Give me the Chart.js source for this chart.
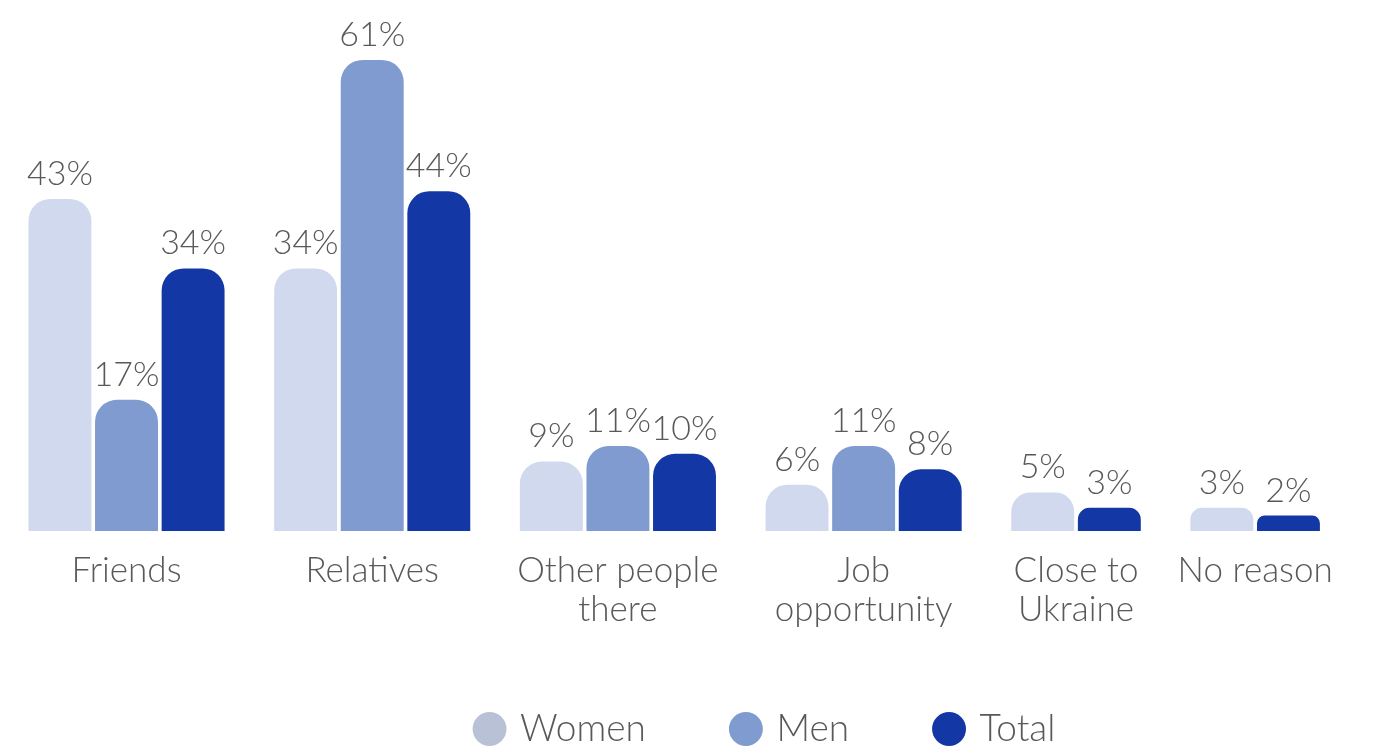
<!DOCTYPE html>
<html>
<head>
<meta charset="utf-8">
<script src="https://cdn.jsdelivr.net/npm/chart.js@4.4.1/dist/chart.umd.min.js"></script>
<style>
  html, body { margin: 0; background: #fff; }
  #wrap { width: 1387px; height: 755px; }
</style>
</head>
<body>
<div id="wrap"><canvas id="chart"></canvas></div>
<script>
const categories = [
  ["Friends"],
  ["Relatives"],
  ["Other people", "there"],
  ["Job", "opportunity"],
  ["Close to", "Ukraine"],
  ["No reason"],
];
const seriesNames = ["Women", "Men", "Total"];
const women = [43, 34, 9, 6, 5, 3];
const men = [17, 61, 11, 11, null, null];
const total = [34, 44, 10, 8, 3, 2];

const barColors = ["#d0d9ee", "#7f9bd0", "#1338a5"];
const legendColors = ["#b9c1d6", "#7f9bd0", "#1338a5"];
const textColor = "#595959";
const fontFamily = "Lato, 'Open Sans', sans-serif";

// extra space between groups, in bar slots
const GROUP_GAP = 0.69;
const LEGEND_PAD = 88;
const LEGEND_FONT = 37;
const LEGEND_SHIFT_X = 73;
const LEGEND_SHIFT_Y = -8.5;
const XAXIS_HEIGHT = 100;

// each bar gets its own slot, so groups with a missing series are narrower
const seriesValues = [women, men, total];
const points = seriesValues.map(() => []);
const groupCenters = [];
let slot = 0;
categories.forEach((cat, i) => {
  const first = slot;
  seriesValues.forEach((vals, s) => {
    if (vals[i] === null) return;
    points[s].push({ x: slot, y: vals[i] });
    slot++;
  });
  groupCenters.push((first + slot - 1) / 2);
  slot += GROUP_GAP;
});

const valueLabels = {
  id: "valueLabels",
  afterDatasetsDraw(chart) {
    const { ctx } = chart;
    ctx.save();
    ctx.font = `300 34px ${fontFamily}`;
    ctx.fillStyle = textColor;
    ctx.textAlign = "center";
    ctx.textBaseline = "alphabetic";
    chart.data.datasets.forEach((ds, d) => {
      chart.getDatasetMeta(d).data.forEach((bar, i) => {
        ctx.fillText(`${ds.data[i].y}%`, bar.x, bar.y - 14);
      });
    });
    ctx.restore();
  },
};

// wide gaps between legend items, but not the same gap under the row
const legendSpacing = {
  id: "legendSpacing",
  beforeInit(chart) {
    const fit = chart.legend.fit;
    chart.legend.fit = function () {
      fit.call(this);
      this.height = Math.min(this.height, LEGEND_PAD + LEGEND_FONT - 1);
    };
  },
  afterLayout(chart) {
    const lg = chart.legend;
    lg.left += LEGEND_SHIFT_X;
    lg.right += LEGEND_SHIFT_X;
    lg.top += LEGEND_SHIFT_Y;
    lg.bottom += LEGEND_SHIFT_Y;
  },
};

const ctx = document.getElementById("chart");
new Chart(ctx, {
  type: "bar",
  data: {
    datasets: seriesNames.map((name, s) => ({
      label: name,
      data: points[s],
      backgroundColor: barColors[s],
      borderWidth: 0,
      borderRadius: 22,
      grouped: false,
      categoryPercentage: 1,
      barPercentage: 0.945,
    })),
  },
  options: {
    responsive: true,
    maintainAspectRatio: false,
    animation: false,
    layout: { padding: { top: 29, left: 0, right: 0, bottom: 0 } },
    scales: {
      x: {
        type: "linear",
        offset: false,
        min: -0.9,
        max: 19.93,
        grid: { display: false, drawTicks: false },
        border: { display: false },
        afterBuildTicks(scale) {
          scale.ticks = groupCenters.map((v) => ({ value: v }));
        },
        afterFit(scale) {
          scale.height = XAXIS_HEIGHT;
        },
        ticks: {
          autoSkip: false,
          maxRotation: 0,
          padding: 20,
          color: textColor,
          font: { family: fontFamily, size: 35, weight: 300, lineHeight: 1.12 },
          callback: (value, index) => categories[index],
        },
      },
      y: { display: false, min: 0, max: 65 },
    },
    plugins: {
      tooltip: { enabled: false },
      legend: {
        position: "bottom",
        labels: {
          usePointStyle: true,
          pointStyle: "circle",
          boxWidth: 24,
          boxHeight: 24,
          padding: LEGEND_PAD,
          color: textColor,
          font: { family: fontFamily, size: LEGEND_FONT, weight: 300 },
          generateLabels(chart) {
            const labels = Chart.defaults.plugins.legend.labels.generateLabels(chart);
            return labels.map((label, i) => {
              label.fillStyle = legendColors[i];
              label.strokeStyle = legendColors[i];
              label.lineWidth = 0;
              return label;
            });
          },
        },
      },
    },
  },
  plugins: [valueLabels, legendSpacing],
});
</script>
</body>
</html>
